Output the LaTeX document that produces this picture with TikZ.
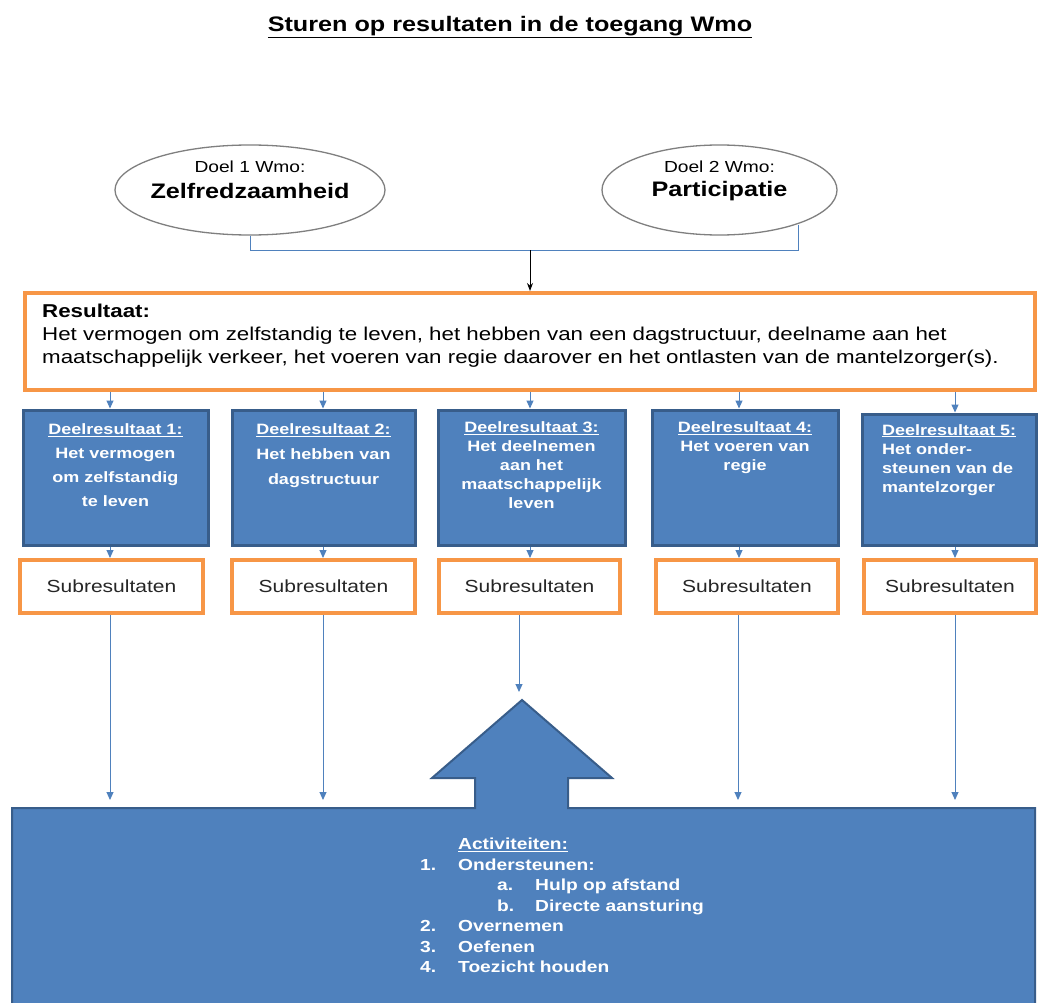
\documentclass[tikz,border=0pt]{standalone}
\usepackage{fontspec}
\setmainfont{Liberation Sans}[FakeStretch=1.2]
\usetikzlibrary{shapes.geometric,arrows.meta}
\definecolor{obl}{HTML}{4F81BD}
\definecolor{obd}{HTML}{385D8A}
\definecolor{oor}{HTML}{F79646}
\definecolor{ogr}{HTML}{7F7F7F}
\definecolor{otx}{HTML}{262626}
\begin{document}
\begin{tikzpicture}[x=1pt,y=-1pt,
  goal/.style={ellipse, draw=ogr, line width=1.3pt, fill=white, inner sep=0},
  orbox/.style={rectangle, draw=oor, line width=4pt, fill=white, inner sep=0},
  bluebox/.style={rectangle, draw=obd, line width=3pt, fill=obl, inner sep=0},
  dtext/.style={text=white, font=\bfseries\fontsize{15}{19}\selectfont, align=center, inner sep=0},
  subbox/.style={orbox, minimum height=53pt, text=otx, font=\fontsize{17.5}{20}\selectfont},
  link/.style={draw=obl, line width=1pt, -{Triangle[length=8pt,width=7pt]}},
  bracket/.style={draw=obl, line width=1pt},
]
\useasboundingbox (0,0) rectangle (1038,1003);
\fill[white] (0,0) rectangle (1038,1003);

% title
\node[font=\bfseries\fontsize{21}{25}\selectfont, inner sep=0] (title) at (510,27) {\underline{Sturen op resultaten in de toegang Wmo}};

% goals
\node[goal, minimum width=270pt, minimum height=90pt] (g1) at (250,190) {};
\node[goal, minimum width=235pt, minimum height=90pt] (g2) at (719.5,190) {};
\node[font=\fontsize{16}{20}\selectfont, inner sep=0] (g1a) at (250,167) {Doel 1 Wmo:};
\node[font=\bfseries\fontsize{21}{25}\selectfont, inner sep=0] (g1b) at (250,191) {Zelfredzaamheid};
\node[font=\fontsize{16}{20}\selectfont, inner sep=0] (g2a) at (719.5,167) {Doel 2 Wmo:};
\node[font=\bfseries\fontsize{21}{25}\selectfont, inner sep=0] (g2b) at (719.5,191) {Participatie};

% result box
\node[orbox, minimum width=1010pt, minimum height=97pt] (res) at (530,341.5) {};
\node[anchor=north west, inner sep=0, align=left, font=\fontsize{18.6}{23}\selectfont] (rest) at (42,304)
  {\textbf{Resultaat:}\\
   Het vermogen om zelfstandig te leven, het hebben van een dagstructuur, deelname aan het\\
   maatschappelijk verkeer, het voeren van regie daarover en het ontlasten van de mantelzorger(s).};

% bracket and arrow
\coordinate (brl) at (250,250);
\coordinate (brr) at (798,250);
\coordinate (brt) at (798,225);
\coordinate (jn) at (530,250);
\draw[bracket] (g1.south) -- (brl) -- (brr) -- (brt);
\draw[black, line width=1pt, -{Stealth[length=8pt,width=6pt]}] (jn) -- (res.north -| jn);

% deelresultaten
\node[bluebox, minimum width=185pt, minimum height=135pt] (d1) at (115.5,477.5) {};
\node[bluebox, minimum width=183pt, minimum height=135pt] (d2) at (323.5,477.5) {};
\node[bluebox, minimum width=187pt, minimum height=135pt] (d3) at (531.5,477.5) {};
\node[bluebox, minimum width=186pt, minimum height=135pt] (d4) at (745,477.5) {};
\node[bluebox, minimum width=174pt, minimum height=131pt] (d5) at (949,479.5) {};

\node[dtext, font=\bfseries\fontsize{15}{24}\selectfont, anchor=north] (d1t) at ([yshift=-15pt]d1.north)
  {\underline{Deelresultaat 1:}\\Het vermogen\\om zelfstandig\\te leven};
\node[dtext, font=\bfseries\fontsize{15}{25}\selectfont, anchor=north] (d2t) at ([yshift=-15pt]d2.north)
  {\underline{Deelresultaat 2:}\\Het hebben van\\dagstructuur};
\node[dtext, anchor=north] (d3t) at ([yshift=-13pt]d3.north)
  {\underline{Deelresultaat 3:}\\Het deelnemen\\aan het\\maatschappelijk\\leven};
\node[dtext, anchor=north] (d4t) at ([yshift=-13pt]d4.north)
  {\underline{Deelresultaat 4:}\\Het voeren van\\regie};
\node[dtext, align=left, anchor=north west] (d5t) at (882,424)
  {\underline{Deelresultaat 5:}\\Het onder-\\steunen van de\\mantelzorger};

% subresultaten
\node[subbox, minimum width=183pt] (s1) at (111.5,586.5) {Subresultaten};
\node[subbox, minimum width=183pt] (s2) at (323.5,586.5) {Subresultaten};
\node[subbox, minimum width=181pt] (s3) at (529.5,586.5) {Subresultaten};
\node[subbox, minimum width=182pt] (s4) at (747,586.5) {Subresultaten};
\node[subbox, minimum width=172pt] (s5) at (950,586.5) {Subresultaten};

% arrows result -> deel
\coordinate (x1) at (110,0);
\coordinate (x2) at (323,0);
\coordinate (x3) at (530,0);
\coordinate (x4) at (739,0);
\coordinate (x5) at (955,0);
\foreach \i in {1,...,5}{
  \draw[link] (res.south -| x\i) -- (d\i.north -| x\i);
  \draw[link] (d\i.south -| x\i) -- (s\i.north -| x\i);
}

% activities shape
\draw[fill=obl, draw=obd, line width=2pt] (12,808) -- (475,808) -- (475,778) -- (432,778) -- (522,700)
  -- (612,778) -- (568,778) -- (568,808) -- (1035,808) -- (1035,1015) -- (12,1015) -- cycle;

\coordinate (e1) at (110,800);
\coordinate (e2) at (323,800);
\coordinate (e3) at (519,692);
\coordinate (e4) at (738,800);
\coordinate (e5) at (955,800);
\foreach \i in {1,...,5}{
  \draw[link] (s\i.south -| e\i) -- (e\i);
}

\node[anchor=north west, inner sep=0, align=left, text=white, font=\bfseries\fontsize{16}{20.5}\selectfont] (act) at (420,838)
  {\hspace*{38pt}\underline{Activiteiten:}\\
   \makebox[38pt][l]{1.}Ondersteunen:\\
   \hspace*{77pt}\makebox[38pt][l]{a.}Hulp op afstand\\
   \hspace*{77pt}\makebox[38pt][l]{b.}Directe aansturing\\
   \makebox[38pt][l]{2.}Overnemen\\
   \makebox[38pt][l]{3.}Oefenen\\
   \makebox[38pt][l]{4.}Toezicht houden};
\end{tikzpicture}
\end{document}
